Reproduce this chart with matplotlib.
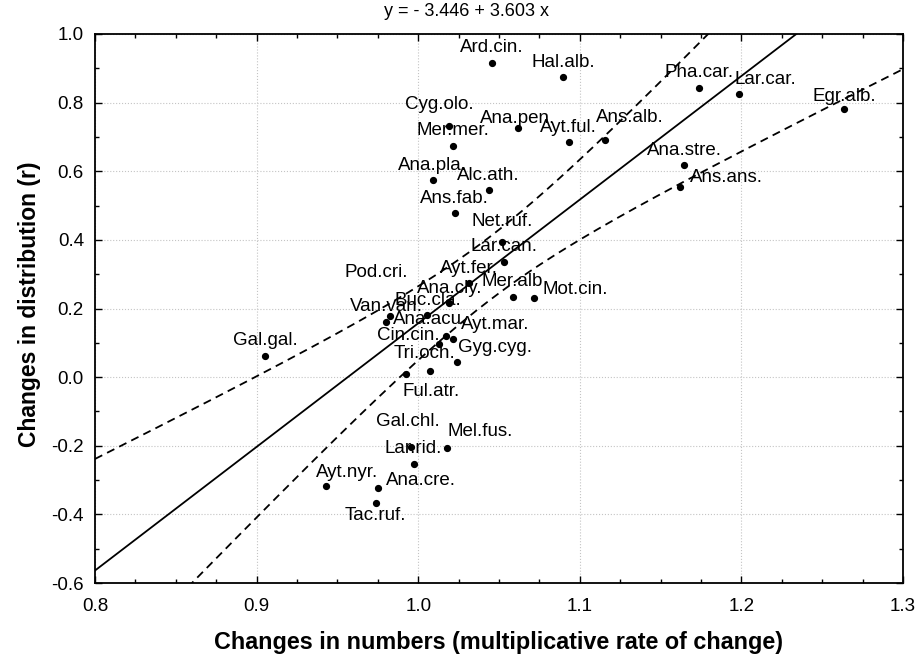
import numpy as np
import matplotlib
matplotlib.use("Agg")
import matplotlib.pyplot as plt
from matplotlib.ticker import MultipleLocator, FormatStrFormatter

plt.rcParams['font.family'] = ['Liberation Sans', 'DejaVu Sans']

# species codes with population change (x) and distribution change (y)
species = ["Ard.cin.", "Hal.alb.", "Pha.car.", "Lar.car.", "Egr.alb.",
           "Cyg.olo.", "Ana.pen.", "Ayt.ful.", "Ans.alb.", "Mer.mer.",
           "Ana.stre.", "Ans.ans.", "Ana.pla.", "Alc.ath.", "Ans.fab.",
           "Net.ruf.", "Lar.can.", "Pod.cri.", "Ayt.fer.", "Ana.cly.",
           "Mer.alb", "Mot.cin.", "Buc.cla.", "Van.van.", "Ana.acu.",
           "Ayt.mar.", "Cin.cin.", "Gyg.cyg.", "Tri.och.", "Ful.atr.",
           "Gal.gal.", "Gal.chl.", "Mel.fus.", "Lar.rid.", "Ayt.nyr.",
           "Ana.cre.", "Tac.ruf."]
rate = np.array([1.0455, 1.0895, 1.1736, 1.1983, 1.2636,
                 1.0188, 1.0620, 1.0932, 1.1153, 1.0217,
                 1.1646, 1.1619, 1.0089, 1.0436, 1.0227,
                 1.0519, 1.0529, 0.9826, 1.0316, 1.0192,
                 1.0584, 1.0719, 1.0057, 0.9803, 1.0171,
                 1.0213, 1.0130, 1.0238, 1.0072, 0.9923,
                 0.9055, 0.9958, 1.0176, 0.9971, 0.9429,
                 0.9749, 0.9739])
distr = np.array([0.916, 0.874, 0.843, 0.826, 0.780,
                  0.733, 0.725, 0.685, 0.691, 0.674,
                  0.618, 0.555, 0.574, 0.545, 0.477,
                  0.395, 0.336, 0.179, 0.273, 0.215,
                  0.234, 0.231, 0.180, 0.161, 0.120,
                  0.112, 0.096, 0.043, 0.018, 0.009,
                  0.062, -0.203, -0.207, -0.253, -0.318,
                  -0.322, -0.368])

intercept = -3.446
slope = 3.603

# label placement in pixels from the point (default: centred above)
label_shift = {
    "Lar.car.": (27, 14), "Cyg.olo.": (-9, 21), "Ana.pen.": (-1, 10),
    "Ans.alb.": (25, 23), "Ans.ans.": (47, 9), "Net.ruf.": (0, 20),
    "Pod.cri.": (-14, 43), "Mot.cin.": (41, 8), "Ana.acu.": (-16, 16),
    "Ayt.mar.": (43, 14), "Cin.cin.": (-31, 9), "Gyg.cyg.": (38, 15),
    "Tri.och.": (-5, 17), "Ful.atr.": (25, -17), "Gal.chl.": (-4, 25),
    "Mel.fus.": (34, 17), "Ayt.nyr.": (21, 14), "Ana.cre.": (43, 7),
    "Tac.ruf.": (-1, -12), "Egr.alb.": (0, 13),
}

W, H = 917, 654
fig = plt.figure(figsize=(W / 100, H / 100), dpi=100)
ax = fig.add_axes([95 / W, 1 - 583 / H, 808 / W, 549 / H])

# regression line and 95% confidence band of the mean
xs = np.linspace(0.8, 1.3, 300)
fit = intercept + slope * xs
n = len(rate)
resid = distr - (intercept + slope * rate)
s = np.sqrt(np.sum(resid ** 2) / (n - 2))
sxx = np.sum((rate - rate.mean()) ** 2)
t95 = 2.03
hw = t95 * s * np.sqrt(1.0 / n + (xs - rate.mean()) ** 2 / sxx)

ax.plot(xs, fit, color='black', lw=1.3)
ax.plot(xs, fit + hw, color='black', lw=1.3, ls=(0, (4.5, 3)))
ax.plot(xs, fit - hw, color='black', lw=1.3, ls=(0, (4.5, 3)))

ax.plot(rate, distr, 'o', color='black', ms=4.2)
for name, xv, yv in zip(species, rate, distr):
    dx, dy = label_shift.get(name, (0, 15))
    ax.annotate(name, (xv, yv), xytext=(dx, dy), textcoords='offset pixels',
                ha='center', va='center', fontsize=13.5)

ax.set_xlim(0.8, 1.3)
ax.set_ylim(-0.6, 1.0)
ax.xaxis.set_major_locator(MultipleLocator(0.1))
ax.xaxis.set_minor_locator(MultipleLocator(0.025))
ax.yaxis.set_major_locator(MultipleLocator(0.2))
ax.yaxis.set_minor_locator(MultipleLocator(0.1))
ax.xaxis.set_major_formatter(FormatStrFormatter('%.1f'))
ax.yaxis.set_major_formatter(FormatStrFormatter('%.1f'))
ax.tick_params(which='both', direction='in', top=True, right=True, width=1)
ax.tick_params(which='major', length=5, labelsize=13.5)
ax.tick_params(which='minor', length=3)
ax.tick_params(axis='x', pad=11)
ax.tick_params(axis='y', pad=8)
ax.grid(True, which='major', color='#c4c4c4', ls=':', lw=0.8)
ax.set_axisbelow(True)
for sp in ax.spines.values():
    sp.set_linewidth(1.3)

fig.text(499 / W, 1 - 649 / H,
         "Changes in numbers (multiplicative rate of change)",
         ha='center', va='baseline', fontsize=16.8, fontweight='bold')
fig.text(29.5 / W, 1 - 304 / H, "Changes in distribution (r)",
         rotation=90, ha='center', va='center', fontsize=16.5,
         fontweight='bold')

fig.text(466 / W, 1 - 12 / H, "y = - 3.446 + 3.603 x", ha='center',
         va='center', fontsize=13)

fig.savefig("out.png", dpi=100)
